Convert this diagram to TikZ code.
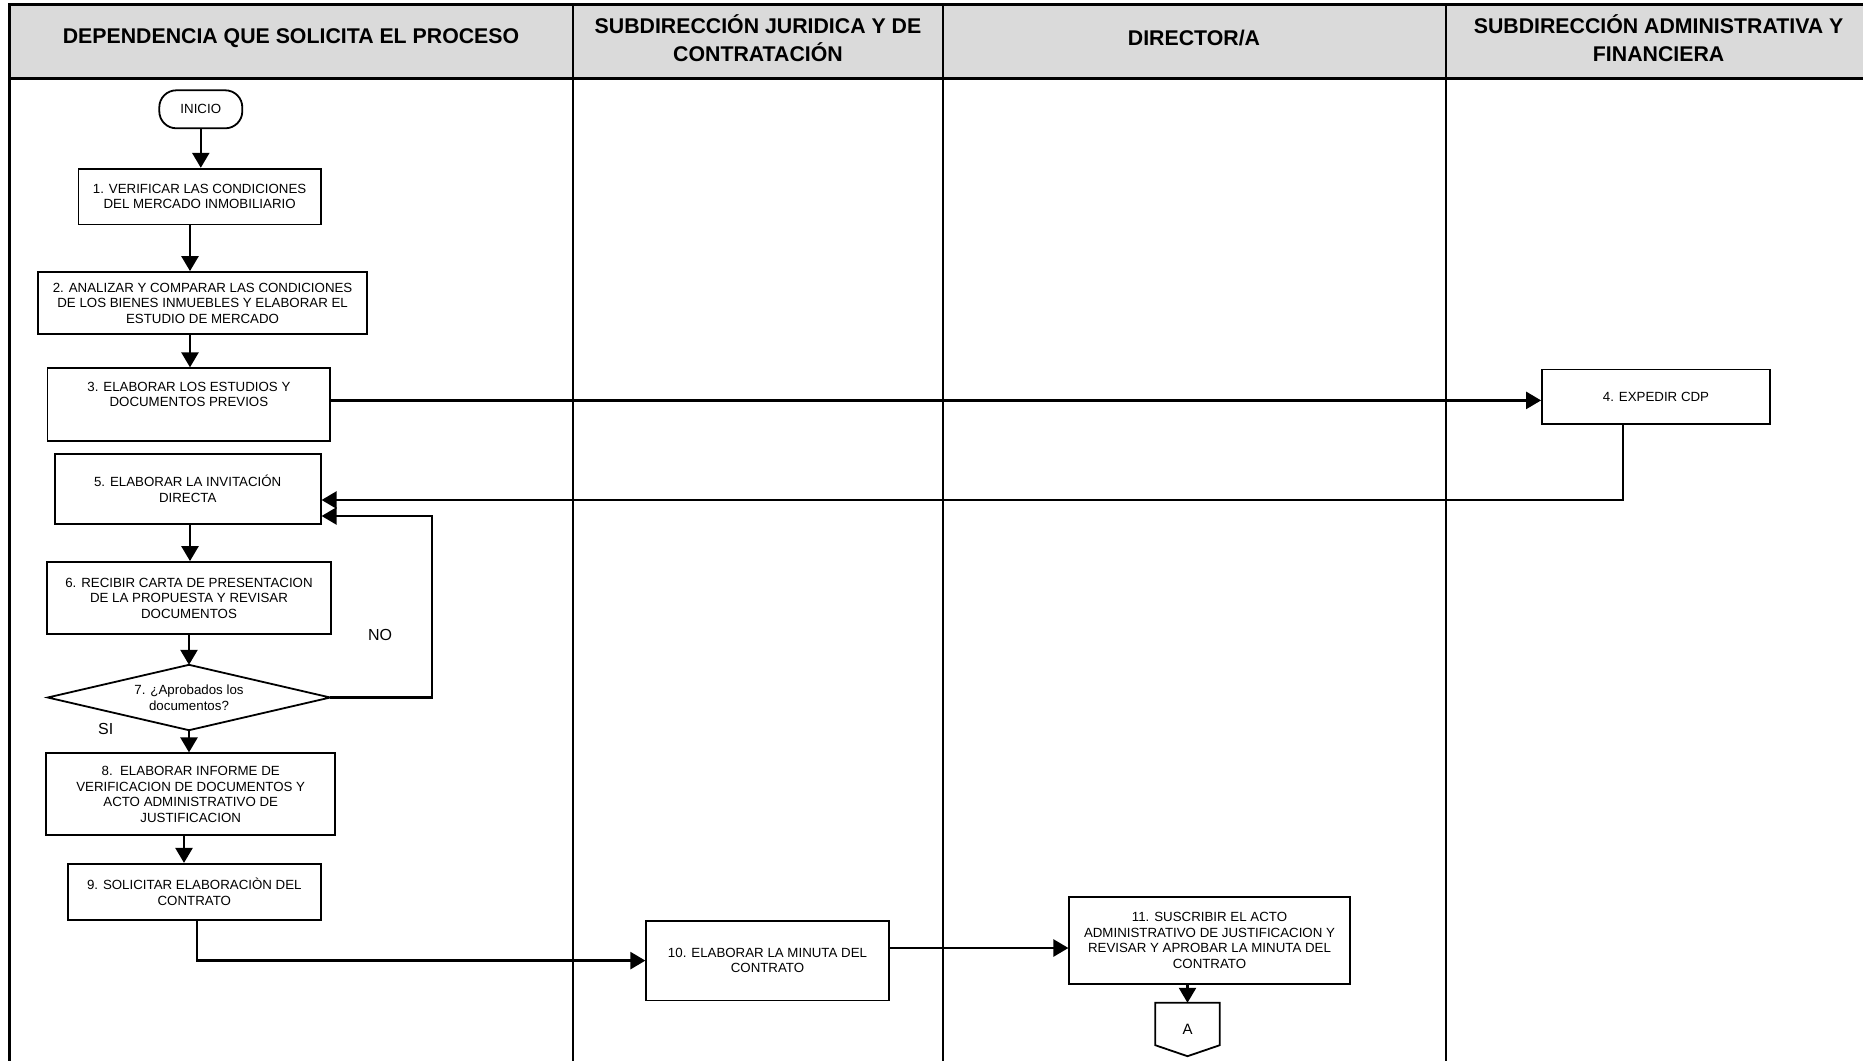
\documentclass[tikz,border=0pt]{standalone}
\usepackage{fontspec}
\setmainfont{Liberation Sans}
\usetikzlibrary{arrows.meta,calc}
\definecolor{hdrgray}{RGB}{218,218,218}
\begin{document}
\begin{tikzpicture}[x=1pt,y=-1pt,
  box/.style={draw, line width=1.8pt, inner sep=0pt, align=center, font=\fontsize{13.3}{15.5}\selectfont},
  plain/.style={inner sep=0pt, align=center, font=\fontsize{13.3}{15.5}\selectfont},
  hdr/.style={align=center, inner sep=0pt, font=\fontsize{21.3}{28.5}\selectfont\bfseries},
  arr/.style={line width=2.5pt, -{Triangle[length=15pt,width=17pt]}},
  lane/.style={line width=1.8pt},
  lbl/.style={inner sep=0pt, font=\fontsize{16}{18}\selectfont}
]
\useasboundingbox (0,0) rectangle (1863,1060);
% header band and swimlanes
\fill[hdrgray] (9.5,4.75) rectangle (1875,78.4);
\draw[line width=3pt] (9.5,1065) -- (9.5,4.75) -- (1875,4.75);
\draw[line width=2.6pt] (9.5,78.4) -- (1875,78.4);
\draw[lane] (572.7,4.75) -- (572.7,1065);
\draw[lane] (943.3,4.75) -- (943.3,1065);
\draw[lane] (1445.9,4.75) -- (1445.9,1065);

\node[hdr] (h1) at (291,38) {DEPENDENCIA QUE SOLICITA EL PROCESO};
\node[hdr] (h2) at (758,38) {SUBDIRECCIÓN JURIDICA Y DE\\CONTRATACIÓN};
\node[hdr] (h3) at (1194,38) {DIRECTOR/A};
\node[hdr] (h4) at (1658.6,38) {SUBDIRECCIÓN ADMINISTRATIVA Y\\FINANCIERA};

% nodes
\node[box, rounded corners=17pt, minimum width=83pt, minimum height=38pt] (ini) at (200.8,109.3) {INICIO};
\node[box, minimum width=242.4pt, minimum height=55.8pt] (b1) at (199.6,196.6) {1. VERIFICAR LAS CONDICIONES\\DEL MERCADO INMOBILIARIO};
\node[box, minimum width=329pt, minimum height=62pt] (b2) at (202.6,303) {2. ANALIZAR Y COMPARAR LAS CONDICIONES\\DE LOS BIENES INMUEBLES Y ELABORAR EL\\ESTUDIO DE MERCADO};
\node[box, minimum width=282.8pt, minimum height=72.5pt] (b3) at (188.9,404.5) {3. ELABORAR LOS ESTUDIOS Y\\DOCUMENTOS PREVIOS\\[4.5pt]~};
\node[box, minimum width=228pt, minimum height=54.7pt] (b4) at (1656,396.8) {4. EXPEDIR CDP};
\node[box, minimum width=266pt, minimum height=70pt] (b5) at (187.7,489) {5. ELABORAR LA INVITACIÓN\\DIRECTA};
\node[box, minimum width=283.5pt, minimum height=72pt] (b6) at (189,598) {6. RECIBIR CARTA DE PRESENTACION\\DE LA PROPUESTA Y REVISAR\\DOCUMENTOS};
\node[plain, minimum width=282pt, minimum height=65pt] (d7) at (189,697.5) {7. ¿Aprobados los\\documentos?};
\draw[line width=1.8pt] (d7.north) -- (d7.east) -- (d7.south) -- (d7.west) -- cycle;
\node[box, minimum width=288.7pt, minimum height=82pt] (b8) at (190.7,794.3) {8.\ \ ELABORAR INFORME DE\\VERIFICACION DE DOCUMENTOS Y\\ACTO ADMINISTRATIVO DE\\JUSTIFICACION};
\node[box, minimum width=253pt, minimum height=55.8pt] (b9) at (194.3,891.7) {9. SOLICITAR ELABORACIÒN DEL\\CONTRATO};
\node[box, minimum width=242.4pt, minimum height=79.6pt] (b10) at (767.5,960.6) {10. ELABORAR LA MINUTA DEL\\CONTRATO};
\node[box, minimum width=280.4pt, minimum height=86.7pt] (b11) at (1209.5,940.4) {11. SUSCRIBIR EL ACTO\\ADMINISTRATIVO DE JUSTIFICACION Y\\REVISAR Y APROBAR LA MINUTA DEL\\CONTRATO};
\node[plain, minimum width=64pt, minimum height=53pt, font=\fontsize{15}{17}\selectfont] (A) at (1187.5,1029.5) {A};
\draw[line width=1.8pt] (A.north west) -- (A.north east) -- ($(A.south east)+(0,-11)$) -- (A.south) -- ($(A.south west)+(0,-11)$) -- cycle;

\node[lbl] (no) at (380,634.5) {NO};
\node[lbl] (si) at (105.7,729) {SI};

% helper coordinates
\coordinate (x190) at (190,0);
\coordinate (x184) at (184,0);
\coordinate (y34) at (0,400.4);
\coordinate (k45) at (1623,500);
\coordinate (kno) at (432,516);
\coordinate (k910) at (197,960);
\coordinate (y1011) at (0,948);

% connectors
\draw[arr] (ini.south) -- (ini.south |- b1.north);
\draw[arr] (b1.south -| x190) -- (b2.north -| x190);
\draw[arr] (b2.south -| x190) -- (b3.north -| x190);
\draw[arr] (b3.east |- y34) -- (b4.west |- y34);
\draw[arr] (b4.south -| k45) -- (k45) -- (b5.east |- k45);
\draw[arr] (b5.south -| x190) -- (b6.north -| x190);
\draw[arr] (b6.south -| d7.north) -- (d7.north);
\draw[arr] (d7.east) -| (kno) -- (b5.east |- kno);
\draw[arr] (d7.south) -- (d7.south |- b8.north);
\draw[arr] (b8.south -| x184) -- (b9.north -| x184);
\draw[arr] (b9.south -| k910) |- (b10.west);
\draw[arr] (b10.east |- y1011) -- (b11.west |- y1011);
\draw[arr] (b11.south -| A.north) -- (A.north);
\end{tikzpicture}
\end{document}
